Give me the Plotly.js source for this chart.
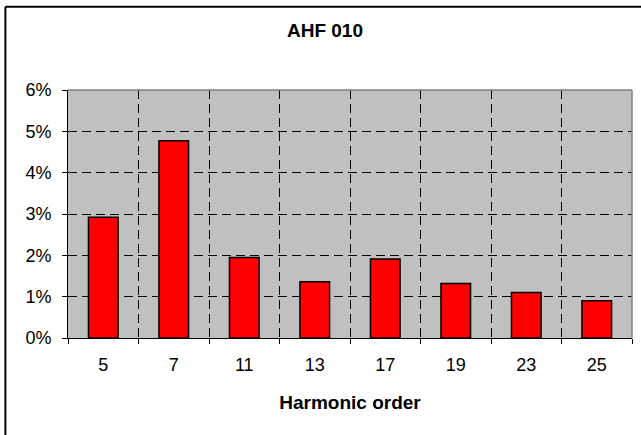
<!DOCTYPE html>
<html>
<head>
<meta charset="utf-8">
<script src="https://cdn.plot.ly/plotly-3.0.1.min.js"></script>
<style>
  html, body { margin: 0; padding: 0; background: #ffffff; }
  #chart { width: 641px; height: 435px; }
</style>
</head>
<body>
<div id="chart"></div>
<script>
const chartTitle = "AHF 010";
const xAxisTitle = "Harmonic order";
const harmonicOrders = ["5", "7", "11", "13", "17", "19", "23", "25"];
const distortion = [0.0292, 0.0477, 0.0195, 0.0136, 0.0191, 0.0132, 0.0110, 0.0090];
const yTickValues = [0, 0.01, 0.02, 0.03, 0.04, 0.05, 0.06];
const yTickLabels = ["0%", "1%", "2%", "3%", "4%", "5%", "6%"];

const FONT = "Liberation Sans, Arial, sans-serif";

const trace = {
  type: "bar",
  x: harmonicOrders,
  y: distortion,
  marker: { color: "#FF0000", line: { color: "#000000", width: 1.5 } },
  hoverinfo: "x+y"
};

const layout = {
  width: 641,
  height: 435,
  margin: { l: 68, r: 9, t: 90, b: 97, pad: 0 },
  paper_bgcolor: "#FFFFFF",
  plot_bgcolor: "#C0C0C0",
  showlegend: false,
  bargap: 0.58,
  font: { family: FONT, color: "#000000", size: 18 },
  title: {
    text: chartTitle,
    font: { family: FONT, size: 19, color: "#000000", weight: "bold" },
    xref: "container", x: 0.507, xanchor: "center",
    yref: "container", y: 0.931, yanchor: "middle"
  },
  xaxis: {
    type: "category",
    tickson: "boundaries",
    ticks: "outside",
    ticklen: 5,
    tickcolor: "#000000",
    ticklabelstandoff: 10,
    showline: true,
    linecolor: "#000000",
    linewidth: 1,
    showgrid: true,
    gridcolor: "#000000",
    gridwidth: 1,
    griddash: "9px,5px",
    tickfont: { family: FONT, size: 18, color: "#000000" },
    title: {
      text: xAxisTitle,
      font: { family: FONT, size: 19, color: "#000000", weight: "bold" },
      standoff: 22
    },
    fixedrange: true
  },
  yaxis: {
    range: [0, 0.06],
    tickvals: yTickValues,
    ticktext: yTickLabels,
    ticks: "outside",
    ticklen: 5,
    tickcolor: "#000000",
    ticklabelstandoff: 7,
    showline: true,
    linecolor: "#000000",
    linewidth: 1,
    showgrid: true,
    gridcolor: "#000000",
    gridwidth: 1,
    griddash: "9px,5px",
    zeroline: false,
    tickfont: { family: FONT, size: 18, color: "#000000" },
    fixedrange: true
  },
  shapes: [
    { type: "line", xref: "paper", yref: "paper", x0: 0, x1: 1, y0: 1, y1: 1,
      line: { color: "#808080", width: 1.5 }, layer: "above" },
    { type: "line", xref: "paper", yref: "paper", x0: 1, x1: 1, y0: 0, y1: 1,
      line: { color: "#808080", width: 1.5 }, layer: "above" },
    { type: "line", xref: "paper", yref: "paper", x0: -0.111, x1: 1.2, y0: 1.336, y1: 1.336,
      line: { color: "#000000", width: 2 } },
    { type: "line", xref: "paper", yref: "paper", x0: -0.111, x1: -0.111, y0: 1.336, y1: -0.6,
      line: { color: "#000000", width: 2 } }
  ]
};

Plotly.newPlot("chart", [trace], layout, { displayModeBar: false, staticPlot: true });
</script>
</body>
</html>
